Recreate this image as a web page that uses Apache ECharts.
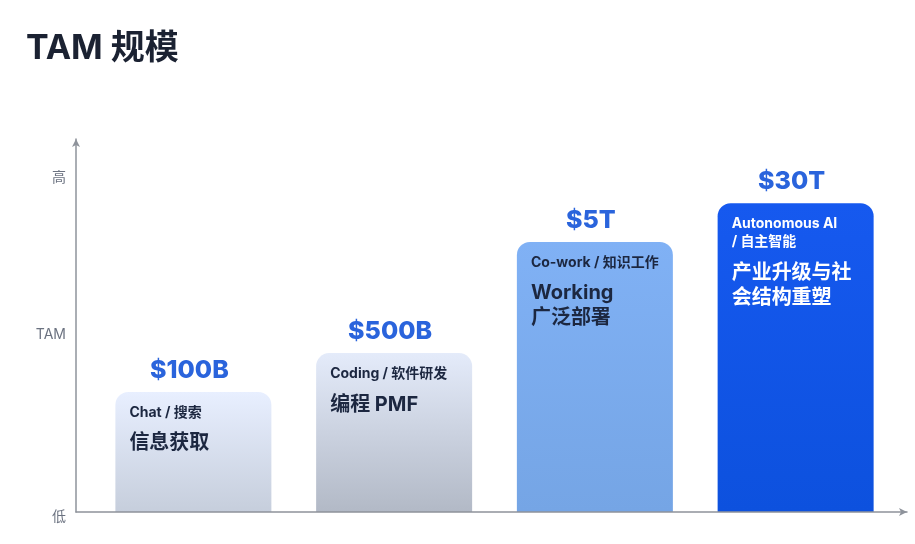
<!DOCTYPE html>
<html>
<head>
<meta charset="utf-8">
<script src="https://cdn.jsdelivr.net/npm/echarts@6/dist/echarts.min.js"></script>
<style>html,body{margin:0;padding:0;background:#fff}#c{width:915px;height:544px}</style>
</head>
<body>
<div id="c"></div>
<script>
// ---- data ----
var categories = ['Chat / 搜索', 'Coding / 软件研发', 'Co-work / 知识工作', 'Autonomous AI\n/ 自主智能'];
var subtitles = ['信息获取', '编程 PMF', 'Working\n广泛部署', '产业升级与社\n会结构重塑'];
var tamLabels = ['$100B', '$500B', '$5T', '$30T'];
var levels = [32.2, 42.6, 72.4, 82.8];
var yTickValues = [0, 47.5, 89.5];
var yTickLabels = ['低', 'TAM', '高'];

// ---- styles ----
var FONT = "Inter, 'Noto Sans CJK SC', sans-serif";
function grad(top, bottom) {
  return { type: 'linear', x: 0, y: 0, x2: 0, y2: 1,
    colorStops: [{ offset: 0, color: top }, { offset: 1, color: bottom }] };
}
var barFills = [
  grad('#e8efff', '#c6cedc'),
  grad('#e4ebfa', '#b2b9c6'),
  grad('#80b1f5', '#75a5e5'),
  grad('#1659ef', '#0d51de')
];
var textColors = ['#1c2740', '#1c2740', '#1c2740', '#ffffff'];

function richFor(color) {
  return {
    a: { fontFamily: FONT, fontSize: 14, fontWeight: 'bold', color: color, lineHeight: 18 },
    g: { fontSize: 4, lineHeight: 9 },
    b: { fontFamily: FONT, fontSize: 20, fontWeight: 'bold', color: color, lineHeight: 25 }
  };
}

var barData = levels.map(function (v, i) {
  var cat = categories[i].split('\n').map(function (s) { return '{a|' + s + '}'; }).join('\n');
  var sub = subtitles[i].split('\n').map(function (s) { return '{b|' + s + '}'; }).join('\n');
  return {
    value: v,
    itemStyle: { color: barFills[i], borderRadius: [13, 13, 0, 0] },
    label: {
      show: true,
      position: [14, 12],
      align: 'left',
      verticalAlign: 'top',
      formatter: cat + '\n{g| }\n' + sub,
      rich: richFor(textColors[i])
    }
  };
});

var topData = levels.map(function (v, i) {
  return { value: v, label: { formatter: tamLabels[i] } };
});

var axisLineStyle = { color: '#8e939b', width: 1.5 };

var option = {
  animation: false,
  backgroundColor: '#ffffff',
  title: {
    text: 'TAM 规模',
    left: 26, top: 32, padding: 0,
    textStyle: { fontFamily: FONT, fontSize: 34, fontWeight: 'bold', color: '#1b2232' }
  },
  grid: [
    { left: 76, right: 8, top: 139, bottom: 32 },
    { left: 93, right: 19, top: 139, bottom: 32 }
  ],
  xAxis: [
    {
      gridIndex: 0, type: 'value', min: 0, max: 1, z: 10,
      axisLine: { show: true, symbol: ['none', 'arrow'], symbolSize: [6, 8], lineStyle: axisLineStyle },
      axisTick: { show: false }, axisLabel: { show: false }, splitLine: { show: false }
    },
    {
      gridIndex: 1, type: 'category', data: categories,
      axisLine: { show: false }, axisTick: { show: false }, axisLabel: { show: false }, splitLine: { show: false }
    }
  ],
  yAxis: [
    {
      gridIndex: 0, type: 'value', min: 0, max: 100, z: 10,
      axisLine: { show: true, symbol: ['none', 'arrow'], symbolSize: [6, 8], lineStyle: axisLineStyle },
      axisTick: { show: false },
      splitLine: { show: false },
      axisLabel: {
        show: true,
        customValues: yTickValues,
        margin: 10,
        fontFamily: FONT, fontSize: 14, color: '#6b7280',
        formatter: function (val) {
          var idx = yTickValues.indexOf(val);
          if (idx === 0) return '{low|' + yTickLabels[idx] + '}';
          return idx >= 0 ? yTickLabels[idx] : '';
        },
        rich: { low: { fontFamily: FONT, fontSize: 14, color: '#6b7280', padding: [10, 0, 0, 0] } }
      }
    },
    {
      gridIndex: 1, type: 'value', min: 0, max: 100,
      axisLine: { show: false }, axisTick: { show: false }, axisLabel: { show: false }, splitLine: { show: false }
    }
  ],
  series: [
    {
      type: 'bar', xAxisIndex: 1, yAxisIndex: 1,
      barWidth: 156,
      data: barData
    },
    {
      type: 'bar', xAxisIndex: 1, yAxisIndex: 1,
      barWidth: 156, barGap: '-100%',
      itemStyle: { color: 'rgba(0,0,0,0)' },
      silent: true,
      label: {
        show: true, position: 'top', distance: 9, offset: [-4, 0],
        fontFamily: FONT, fontSize: 25, fontWeight: 800, color: '#2a64dc'
      },
      data: topData
    }
  ]
};

var chart = echarts.init(document.getElementById('c'), null, { renderer: 'canvas' });
chart.setOption(option);
</script>
</body>
</html>
